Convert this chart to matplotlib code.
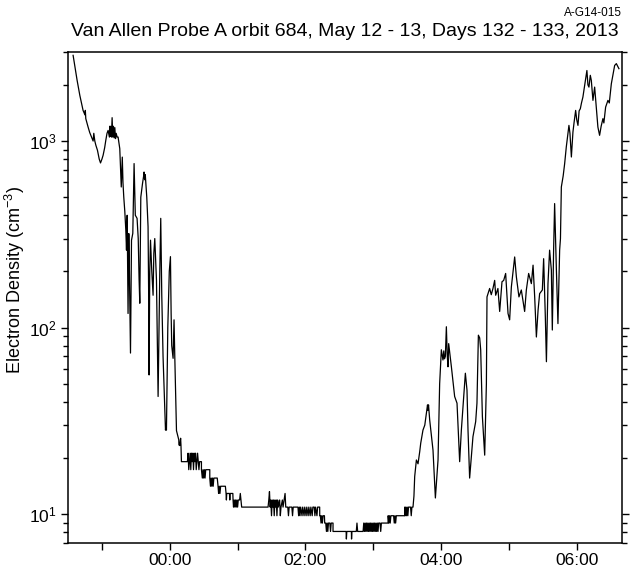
import matplotlib
matplotlib.use("Agg")
import matplotlib.pyplot as plt
from matplotlib.ticker import FixedLocator, FuncFormatter, LogLocator, LogFormatterSciNotation

plt.rcParams['font.family'] = ['Liberation Sans', 'DejaVu Sans']
plt.rcParams['mathtext.fontset'] = 'custom'
plt.rcParams['mathtext.rm'] = 'Liberation Sans'
plt.rcParams['mathtext.it'] = 'Liberation Sans:italic'

title = "Van Allen Probe A orbit 684, May 12 - 13, Days 132 - 133, 2013"
tag = "A-G14-015"
ylabel = "Electron Density (cm$^{-3}$)"

# hours relative to 00:00 UT May 13 (negative = May 12)
t_drop = [-1.425, -1.366, -1.326, -1.278, -1.25, -1.245, -1.238, -1.204, -1.18, -1.154,
          -1.13, -1.12, -1.105, -1.09, -1.066, -1.04, -1.021, -1.0, -0.983, -0.96,
          -0.943, -0.925, -0.909, -0.89, -0.885, -0.875, -0.87, -0.86, -0.85, -0.84,
          -0.83, -0.82, -0.81, -0.80, -0.79, -0.776, -0.762, -0.737, -0.715, -0.70,
          -0.69, -0.678, -0.663, -0.648, -0.638, -0.628, -0.615, -0.604, -0.595, -0.579,
          -0.564, -0.545, -0.526, -0.508, -0.482, -0.465, -0.452, -0.442, -0.427, -0.402,
          -0.385, -0.379, -0.37, -0.361, -0.339, -0.32, -0.31, -0.305, -0.295, -0.284,
          -0.265, -0.246, -0.235, -0.221, -0.196, -0.172, -0.147, -0.133, -0.118, -0.099,
          -0.063, -0.055, -0.049, -0.029, -0.007, 0.01, 0.02, 0.029, 0.049, 0.063,
          0.074, 0.099, 0.133, 0.135, 0.147, 0.16, 0.165, 0.172]
n_drop = [2880, 2115, 1757, 1459, 1380, 1460, 1318, 1188, 1110, 1050,
          1000, 1100, 1000, 950, 892, 800, 763, 800, 838, 920,
          1009, 1100, 1140, 1050, 1200, 1060, 1200, 1050, 1334, 1050,
          1200, 1040, 1180, 1030, 1100, 1050, 1050, 910, 567, 820,
          600, 500, 420, 333, 260, 400, 119, 319, 200, 73,
          294, 320, 757, 400, 385, 300, 180, 135, 500, 591,
          650, 682, 620, 660, 500, 347, 135, 55.7, 200, 294,
          200, 149, 250, 300, 180, 42.7, 200, 385, 150, 70,
          28.2, 30, 28.2, 100, 200, 240, 120, 80, 68.4, 110,
          70, 28, 25, 23.5, 23.3, 25.5, 23.5, 19.1]

t_trough = [0.26, 0.27, 0.28, 0.29, 0.30, 0.31, 0.32, 0.33, 0.34, 0.35,
            0.36, 0.37, 0.38, 0.39, 0.40, 0.41, 0.42, 0.43, 0.44, 0.467,
            0.467, 0.48, 0.49, 0.50, 0.51, 0.52, 0.53, 0.59, 0.59, 0.60,
            0.61, 0.62, 0.63, 0.64, 0.65, 0.70, 0.712, 0.72, 0.73, 0.74,
            0.75, 0.82, 0.83, 0.835, 0.84, 0.88, 0.885, 0.89, 0.93, 0.933,
            0.94, 0.95, 0.96, 0.97, 0.98, 0.99, 1.0, 1.01, 1.03, 1.04,
            1.05, 1.06, 1.08, 1.449, 1.46, 1.47, 1.48, 1.49, 1.50, 1.51,
            1.52, 1.53, 1.54, 1.55, 1.56, 1.57, 1.58, 1.59, 1.60, 1.62,
            1.63, 1.64, 1.66, 1.67, 1.70, 1.71, 1.74, 1.75, 1.76, 1.80,
            1.81, 1.82, 1.89, 1.90, 1.91, 1.92, 1.93, 1.95, 1.96, 1.98,
            1.99, 2.01, 2.02, 2.04, 2.05, 2.07, 2.08, 2.10, 2.11, 2.13,
            2.14, 2.15, 2.17, 2.18, 2.21, 2.211, 2.22, 2.23, 2.24, 2.25,
            2.26, 2.28, 2.284, 2.30, 2.31, 2.32, 2.33, 2.34, 2.36, 2.37,
            2.38, 2.407, 2.407, 2.60, 2.604, 2.61, 2.678, 2.68, 2.685, 2.75,
            2.76, 2.77, 2.85, 2.86, 2.87, 2.88, 2.89, 2.90, 2.91, 2.92,
            2.93, 2.94, 2.95, 2.96, 2.97, 2.98, 2.99, 3.00, 3.01, 3.02,
            3.03, 3.04, 3.05, 3.06, 3.07, 3.08, 3.10, 3.11, 3.12, 3.17,
            3.218, 3.22, 3.23, 3.24, 3.25, 3.26, 3.30, 3.31, 3.32, 3.33,
            3.34, 3.37, 3.464, 3.464, 3.47, 3.48, 3.49, 3.50, 3.51, 3.52,
            3.55, 3.56, 3.57, 3.586]
n_trough = [19.1, 21.2, 17.3, 19.1, 21.2, 17.3, 21.2, 19.1, 21.2, 17.3,
            21.2, 19.1, 21.2, 17.3, 19.1, 21.2, 19.1, 17.3, 19.1, 19.1,
            17.3, 15.6, 17.3, 15.6, 17.3, 15.6, 17.3, 17.3, 15.6, 14.1,
            15.6, 14.1, 15.6, 14.1, 15.6, 15.6, 14.1, 12.9, 14.1, 12.9,
            14.1, 14.1, 12.9, 11.9, 12.9, 12.9, 11.9, 12.9, 12.9, 11.9,
            10.9, 11.9, 10.9, 11.9, 10.9, 11.9, 10.9, 11.9, 11.9, 12.9,
            11.9, 10.9, 10.9, 10.9, 11.9, 13.2, 10.9, 11.9, 9.8, 11.9,
            10.9, 11.9, 9.8, 11.9, 10.9, 11.9, 9.8, 11.9, 10.9, 11.9,
            9.8, 10.9, 11.9, 10.9, 12.9, 10.9, 10.9, 9.8, 10.9, 10.9,
            9.8, 10.9, 10.9, 9.8, 10.9, 9.8, 10.9, 9.8, 10.9, 9.8,
            10.9, 9.8, 10.9, 9.8, 10.9, 9.8, 10.9, 9.8, 10.9, 10.9,
            9.8, 10.9, 9.8, 10.9, 10.9, 9.8, 9.8, 8.95, 9.8, 8.95,
            9.8, 9.8, 8.95, 8.95, 8.07, 8.95, 8.07, 8.95, 8.95, 8.07,
            8.95, 8.95, 8.07, 8.07, 7.35, 8.07, 8.07, 7.35, 8.07, 8.07,
            8.95, 8.07, 8.07, 8.95, 8.07, 8.95, 8.07, 8.95, 8.07, 8.95,
            8.07, 8.95, 8.07, 8.95, 8.07, 8.95, 8.07, 8.95, 8.07, 8.95,
            8.07, 8.95, 8.07, 8.95, 8.07, 8.95, 8.95, 8.07, 8.95, 8.95,
            8.95, 9.8, 8.95, 9.8, 8.95, 9.8, 9.8, 8.95, 9.8, 8.95,
            9.8, 9.8, 9.8, 10.9, 9.8, 10.9, 9.8, 10.9, 9.8, 10.9,
            10.9, 9.8, 10.9, 10.9]

t_rise = [3.60, 3.611, 3.636, 3.66, 3.685, 3.70, 3.733, 3.76, 3.784, 3.80,
          3.807, 3.815, 3.832, 3.881, 3.916, 3.955, 3.979, 4.004, 4.028, 4.04,
          4.05, 4.063, 4.078, 4.09, 4.102, 4.112, 4.152, 4.20, 4.235, 4.274,
          4.299, 4.358, 4.382, 4.397, 4.421, 4.470, 4.510, 4.529, 4.550, 4.569,
          4.584, 4.609, 4.643, 4.668, 4.677, 4.716, 4.74, 4.765, 4.790, 4.805,
          4.838, 4.864, 4.898, 4.923, 4.952, 4.987, 5.011, 5.036, 5.085, 5.110,
          5.148, 5.183, 5.232, 5.257, 5.291, 5.331, 5.356, 5.380, 5.405, 5.430,
          5.453, 5.493, 5.512, 5.537, 5.553, 5.576, 5.600, 5.626, 5.640, 5.659,
          5.674, 5.699, 5.723, 5.748, 5.76, 5.773, 5.80, 5.822, 5.846, 5.871,
          5.885, 5.90, 5.921, 5.944, 5.96, 5.984, 6.0, 6.018, 6.035, 6.053,
          6.07, 6.091, 6.116, 6.135, 6.150, 6.165, 6.180, 6.20, 6.215, 6.239,
          6.264, 6.312, 6.337, 6.36, 6.386, 6.40, 6.426, 6.460, 6.48, 6.510,
          6.559, 6.584, 6.622]
n_rise = [12.5, 15.9, 19.5, 18.6, 21.6, 24, 28.2, 30, 34.7, 38.5,
          36, 38.5, 32, 22, 12.2, 19.5, 50, 76, 67, 75,
          68, 70, 101, 72, 61.6, 82, 61.6, 42.7, 39.3, 19.1,
          28.2, 56.9, 46.2, 28.2, 15.6, 26, 31.3, 39.3, 91, 88,
          76, 33.3, 20.7, 50, 146, 162, 150, 162, 179, 149,
          162, 122, 176, 179, 195, 119, 110, 165, 239, 187,
          146, 159, 122, 159, 195, 172, 216, 146, 89, 124,
          152, 159, 234, 114, 65.6, 172, 260, 203, 97, 260,
          462, 210, 105, 260, 300, 567, 650, 757, 929, 1095,
          1213, 1100, 821, 1117, 1250, 1459, 1300, 1213, 1450, 1490,
          1600, 1721, 1988, 2200, 2388, 2000, 1946, 2250, 2113, 1652,
          1946, 1188, 1073, 1200, 1318, 1250, 1520, 1652, 1600, 2027,
          2542, 2600, 2443]

times = t_drop + t_trough + t_rise
density = n_drop + n_trough + n_rise

fig = plt.figure(figsize=(6.31, 5.73), dpi=100)
ax = fig.add_axes([0.1078, 0.0524, 0.8779, 0.8568])
ax.plot(times, density, color='black', lw=0.9)
ax.set_yscale('log')
ax.set_ylim(7, 3000)
ax.set_xlim(-1.5, 6.667)

ax.xaxis.set_major_locator(FixedLocator([0, 2, 4, 6]))
ax.xaxis.set_minor_locator(FixedLocator([-1, 1, 3, 5]))
ax.xaxis.set_major_formatter(FuncFormatter(lambda h, p: f"{int(round(h)) % 24:02d}:00"))
ax.yaxis.set_major_locator(LogLocator(base=10, numticks=10))
ax.yaxis.set_minor_locator(LogLocator(base=10, subs=range(2, 10), numticks=20))
ax.yaxis.set_major_formatter(LogFormatterSciNotation())

ax.tick_params(axis='x', which='major', direction='out', length=5, width=1, labelsize=12.5, pad=2)
ax.tick_params(axis='x', which='minor', direction='out', length=5, width=1)
ax.tick_params(axis='y', which='major', direction='out', length=5, width=1, labelsize=12.5,
               left=True, right=True, pad=3)
ax.tick_params(axis='y', which='minor', direction='out', length=3.5, width=1, left=True, right=True)
ax.tick_params(top=False, which='both')
for s in ax.spines.values():
    s.set_linewidth(1.1)

fig.text(15 / 631, 0.511, ylabel, rotation=90, ha='center', va='center', fontsize=13)
fig.text(0.547, 0.945, title, ha='center', va='center', fontsize=14)
fig.text(0.985, 0.988, tag, ha='right', va='top', fontsize=8.5)

fig.savefig("out.png", dpi=100)
